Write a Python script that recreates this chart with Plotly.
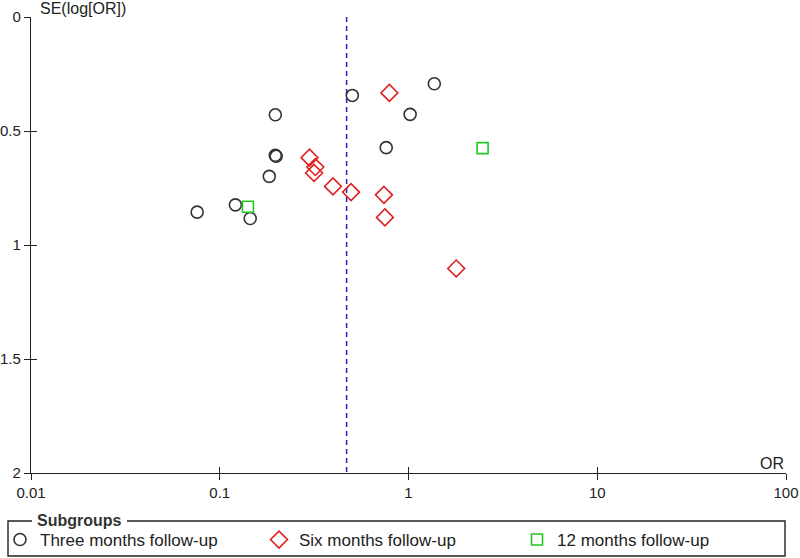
import plotly.graph_objects as go

# ---- data ----
three_or = [0.0759, 0.121, 0.145, 0.183, 0.197, 0.199, 0.197, 0.504, 0.762, 1.02, 1.37]
three_se = [0.856, 0.824, 0.884, 0.699, 0.607, 0.611, 0.429, 0.344, 0.573, 0.427, 0.293]

six_or = [0.299, 0.321, 0.316, 0.398, 0.496, 0.741, 0.750, 0.792, 1.79]
six_se = [0.617, 0.658, 0.684, 0.743, 0.768, 0.780, 0.879, 0.333, 1.103]

twelve_or = [0.141, 2.47]
twelve_se = [0.832, 0.575]

pooled_or = 0.470
se_range = [0, 2]

x_ticks = [0.01, 0.1, 1, 10, 100]
x_ticklabels = ["0.01", "0.1", "1", "10", "100"]
y_ticks = [0, 0.5, 1, 1.5, 2]
y_ticklabels = ["0", "0.5", "1", "1.5", "2"]

series_names = ["Three months follow-up", "Six months follow-up", "12 months follow-up"]

FONT = "Liberation Sans, Arial, sans-serif"
TXT = "#222222"

# ---- layout geometry (pixels) ----
W, H = 800, 558
ML, MR, MT, MB = 31, 14, 17, 85
PW = W - ML - MR
PH = H - MT - MB


def px_x(p):
    return (p - ML) / PW


def px_y(p):
    return (H - MB - p) / PH


fig = go.Figure()

fig.add_trace(go.Scatter(
    x=[pooled_or, pooled_or], y=se_range, mode="lines",
    line=dict(color="#2323c8", width=1.5, dash="5px,4px"),
    showlegend=False, hoverinfo="skip"))

fig.add_trace(go.Scatter(
    x=three_or, y=three_se, mode="markers", name=series_names[0],
    marker=dict(symbol="circle-open", size=12, color="#333333", line=dict(width=1.6)),
    legend="legend"))
fig.add_trace(go.Scatter(
    x=six_or, y=six_se, mode="markers", name=series_names[1],
    marker=dict(symbol="diamond-open", size=13, color="#e02020", line=dict(width=1.6)),
    legend="legend2"))
fig.add_trace(go.Scatter(
    x=twelve_or, y=twelve_se, mode="markers", name=series_names[2],
    marker=dict(symbol="square-open", size=11, color="#22c822", line=dict(width=1.6)),
    legend="legend3"))

# invisible trace to activate the overlay axes (inner half of crossing ticks)
fig.add_trace(go.Scatter(x=[pooled_or], y=[1], xaxis="x2", yaxis="y2",
                         mode="markers", marker=dict(opacity=0),
                         showlegend=False, hoverinfo="skip"))

axis_common = dict(showgrid=False, zeroline=False, automargin=False)

fig.update_layout(
    width=W, height=H,
    margin=dict(l=ML, r=MR, t=MT, b=MB, autoexpand=False),
    paper_bgcolor="white", plot_bgcolor="white",
    font=dict(family=FONT, size=16, color=TXT),
    xaxis=dict(type="log", range=[-2, 2], tickvals=x_ticks, ticktext=x_ticklabels,
               ticks="outside", ticklen=6, tickwidth=1.2, tickcolor=TXT,
               showline=True, linecolor=TXT, linewidth=1.4,
               tickfont=dict(size=15, color=TXT), **axis_common),
    yaxis=dict(range=[2, 0], tickvals=y_ticks, ticktext=y_ticklabels,
               ticks="outside", ticklen=6, tickwidth=1.2, tickcolor=TXT,
               showline=True, linecolor=TXT, linewidth=1.4,
               tickfont=dict(size=15, color=TXT), **axis_common),
    xaxis2=dict(type="log", range=[-2, 2], tickvals=x_ticks, overlaying="x",
                anchor="y2", ticks="inside", ticklen=6, tickwidth=1.2, tickcolor=TXT,
                showticklabels=False, showline=False, **axis_common),
    yaxis2=dict(range=[2, 0], tickvals=y_ticks, overlaying="y", anchor="x2",
                ticks="inside", ticklen=6, tickwidth=1.2, tickcolor=TXT,
                showticklabels=False, showline=False, **axis_common),
    showlegend=True,
)

leg_common = dict(orientation="h", yanchor="middle", xanchor="left",
                  bgcolor="rgba(0,0,0,0)", borderwidth=0,
                  font=dict(family=FONT, size=17, color=TXT))
fig.update_layout(
    legend=dict(x=px_x(0), y=px_y(540), **leg_common),
    legend2=dict(x=px_x(259), y=px_y(540), **leg_common),
    legend3=dict(x=px_x(517), y=px_y(540), **leg_common),
)

# legend box
fig.add_shape(type="rect", xref="paper", yref="paper",
              x0=px_x(8), x1=px_x(785), y0=px_y(556), y1=px_y(521),
              line=dict(color="#222222", width=1.4), fillcolor="rgba(0,0,0,0)")

fig.add_annotation(text="<b>Subgroups</b>", xref="paper", yref="paper",
                   x=px_x(32), y=px_y(520), xanchor="left", yanchor="middle",
                   showarrow=False, bgcolor="white", borderpad=5, borderwidth=0,
                   font=dict(family=FONT, size=16, color="#333333"))

fig.add_annotation(text="SE(log[OR])", xref="paper", yref="paper",
                   x=px_x(38), y=px_y(8), xanchor="left", yanchor="middle",
                   showarrow=False, font=dict(family=FONT, size=16, color=TXT))

fig.add_annotation(text="OR", xref="paper", yref="paper",
                   x=px_x(786), y=px_y(463), xanchor="right", yanchor="middle",
                   showarrow=False, font=dict(family=FONT, size=16, color=TXT))

fig.write_html(
    "out.html",
    config={"displayModeBar": False},
    post_script="document.body.style.margin='0';document.body.style.overflow='hidden';",
)
